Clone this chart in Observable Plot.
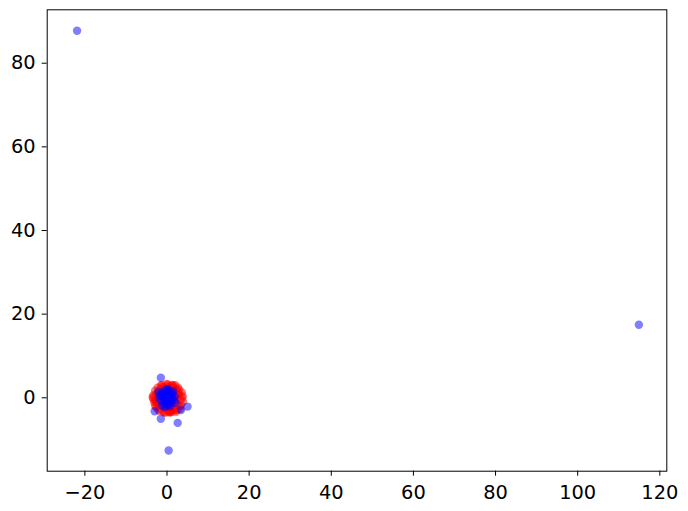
<!DOCTYPE html>
<html><head><meta charset="utf-8">
<script src="https://cdn.jsdelivr.net/npm/d3@7"></script>
<script src="https://cdn.jsdelivr.net/npm/@observablehq/plot@0.6"></script>
<style>
body{margin:0;background:#fff}
#chart svg text{font-family:"DejaVu Sans",sans-serif !important;font-size:19.4px !important;fill:#000}
</style>
</head><body><div id="chart"></div>
<script>
// Red cluster (dense around origin)
const redX = [-3.3,-3.1,-2.9,-2.6,-2.3,-1.9,-1.3,-0.7,0.1,0.8,1.5,2.1,2.7,3.2,3.6,3.9,3.7,-3.4,-2.9,-2.1,
  -1.5,-0.9,0.5,1.2,2.4,3.0,3.4,-2.6,-1.0,0.0,1.8,2.9,-3.0,-2.2,-1.6,-0.4,0.9,2.2,3.3,-2.4,
  -1.8,-1.1,-0.3,0.4,1.1,1.7,2.5,-2.0,-1.4,-0.8,0.2,1.0,1.9,2.6,-1.7,-0.5,0.6,1.4,2.3,-1.2,
  -0.2,0.7,1.6,-0.9,0.3,1.3,-0.6,0.8,0.0,-1.5,1.0,2.0,-2.5,3.1,-0.1,0.5,1.5,-1.9,2.8,-3.5,
  3.8,-0.3,0.9,-2.7,2.2,-1.1,1.2,0.4,-0.8,1.8];
const redY = [0.6,-1.1,1.7,-2.3,2.4,-3.1,3.0,-3.5,3.2,-3.5,3.0,-3.4,2.4,-2.7,1.3,-0.9,0.1,-0.2,-1.9,-2.8,
  2.9,-3.3,-3.4,3.1,-3.0,1.9,-1.8,0.9,2.6,2.2,-2.6,0.9,-0.6,1.1,-1.9,1.8,-1.9,1.9,-0.5,-1.2,
  0.2,1.2,-2.5,2.8,-2.9,0.4,-1.5,1.8,-1.0,0.0,-1.4,1.0,-0.7,0.6,1.4,-0.6,0.7,-1.2,2.1,-2.0,
  0.8,-0.4,1.6,-1.6,1.3,-2.3,0.4,0.2,-0.8,0.6,-3.2,3.0,-0.2,-2.0,3.3,-2.9,2.5,-1.4,1.0,0.2,
  0.4,-3.5,-3.4,-0.9,-0.3,1.5,2.7,-1.1,2.3,-3.0];
// Blue points: central cluster plus outliers
const blueX = [-21.9,114.9,-1.5,5.0,2.6,-1.5,-3.0,3.4,0.4,
  -1.7,-1.1,-0.5,0.1,0.7,1.3,1.9,-1.4,-0.7,0.0,0.6,1.2,-1.9,-0.9,-0.2,0.4,1.0,1.6,-1.2,-0.4,0.3,
  0.9,-0.8,-0.1,0.5,-1.5,1.5,2.1,-2.1,-0.6,0.2,0.8,-1.0,1.1,-0.3,0.1];
const blueY = [87.75,17.45,4.8,-2.1,-6.0,-5.0,-3.2,-2.9,-12.6,
  0.5,1.2,1.8,2.0,1.5,1.1,0.3,-0.6,-1.3,-1.9,-1.6,-0.9,-0.1,0.3,0.9,0.6,-0.2,-0.5,-1.8,-0.7,-0.4,
  0.8,0.0,1.4,-1.1,1.0,1.6,-1.2,1.4,-2.2,2.1,-2.0,0.7,0.2,-0.3,-1.5];
const xTicks = [-20,0,20,40,60,80,100,120];
const yTicks = [0,20,40,60,80];

const red = redX.map((x,i)=>({x, y: redY[i]}));
const blue = blueX.map((x,i)=>({x, y: blueY[i]}));

const chart = Plot.plot({
  width: 688, height: 511,
  marginLeft: 46.7, marginRight: 21.7, marginTop: 9.3, marginBottom: 40.3,
  style: {fontFamily: "DejaVu Sans", fontSize: "19.4px", color: "black", background: "white"},
  x: {domain: [-29.17, 121.7], ticks: xTicks, tickSize: 5, tickPadding: 9, label: null},
  y: {domain: [-17.55, 92.77], ticks: yTicks, tickSize: 5, tickPadding: 6.5, label: null},
  marks: [
    Plot.frame({stroke: "black", strokeWidth: 1}),
    Plot.dot(red, {x: "x", y: "y", r: 4.2, fill: "red", fillOpacity: 0.5, stroke: "none"}),
    Plot.dot(blue, {x: "x", y: "y", r: 4.2, fill: "blue", fillOpacity: 0.5, stroke: "none"})
  ]
});
document.getElementById("chart").appendChild(chart);
</script></body></html>
